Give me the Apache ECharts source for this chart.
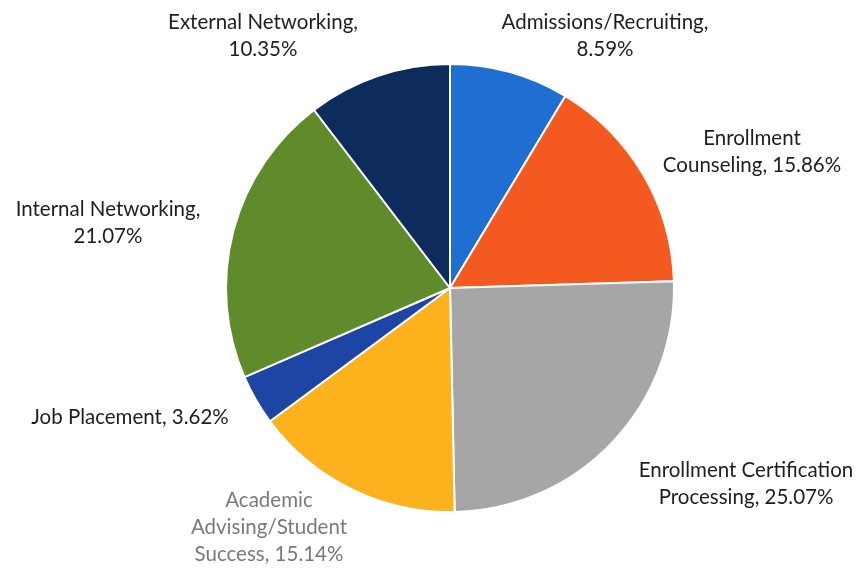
<!DOCTYPE html>
<html>
<head>
<meta charset="utf-8">
<script src="https://cdn.jsdelivr.net/npm/echarts@6/dist/echarts.min.js"></script>
<style>html,body{margin:0;padding:0;background:#fff}#c{width:862px;height:571px}</style>
</head>
<body>
<div id="c"></div>
<script>
const categories = ["Admissions/Recruiting", "Enrollment Counseling", "Enrollment Certification Processing", "Academic Advising/Student Success", "Job Placement", "Internal Networking", "External Networking"];
const values = [8.59, 15.86, 25.07, 15.14, 3.62, 21.07, 10.35];
const colors = ["#1f6fd2", "#f4591f", "#a6a6a6", "#fbb21c", "#1d45a3", "#5f8b2a", "#0e2b5e"];
// label text templates ({v} = value)
const labelTexts = [
  "Admissions/Recruiting,\n{v}%",
  "Enrollment\nCounseling, {v}%",
  "Enrollment Certification\nProcessing, {v}%",
  "Academic\nAdvising/Student\nSuccess, {v}%",
  "Job Placement, {v}%",
  "Internal Networking,\n{v}%",
  "External Networking,\n{v}%"
];

const labelAnchors = [[605, 36], [752, 152], [746, 484], [269, 527], [130, 417], [108, 223], [263, 36]];

const chart = echarts.init(document.getElementById('c'), null, {renderer: 'canvas'});
chart.setOption({
  animation: false,
  series: [{
    type: 'pie',
    center: [450, 288],
    radius: 224,
    startAngle: 90,
    clockwise: true,
    data: categories.map((n, i) => ({
      name: n, value: values[i],
      itemStyle: {color: colors[i]},
      label: i === 3 ? {color: '#7a7a7a'} : {}
    })),
    itemStyle: {borderColor: '#fff', borderWidth: 2},
    label: {
      show: true,
      position: 'outside',
      overflow: 'none',
      fontFamily: 'Lato, "Open Sans", sans-serif',
      fontSize: 20.5,
      lineHeight: 27,
      color: '#1e1e1e',
      align: 'center',
      formatter: p => labelTexts[p.dataIndex].replace('{v}', values[p.dataIndex].toFixed(2))
    },
    labelLine: {show: false},
    labelLayout: p => ({
      x: labelAnchors[p.dataIndex][0],
      y: labelAnchors[p.dataIndex][1],
      align: 'center',
      verticalAlign: 'middle'
    })
  }]
});
</script>
</body>
</html>
